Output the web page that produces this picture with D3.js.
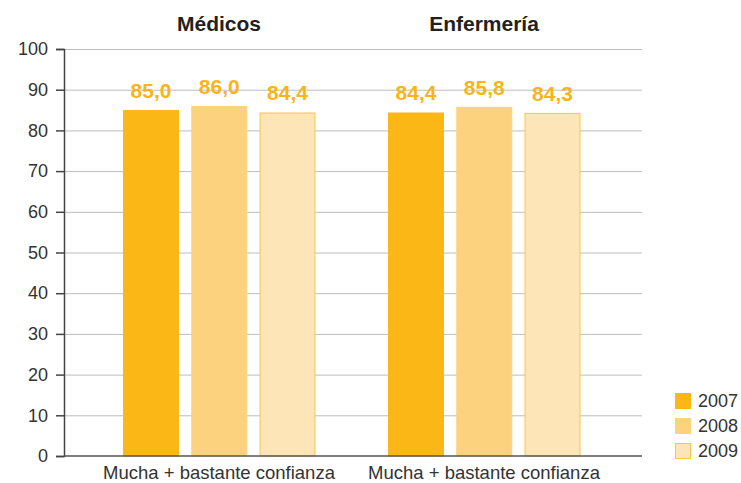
<!DOCTYPE html>
<html><head><meta charset="utf-8">
<script src="https://cdn.jsdelivr.net/npm/d3@7"></script>
<style>body{margin:0;background:#fff;font-family:"Liberation Sans",Arial,Helvetica,sans-serif;}</style>
</head><body><svg id="c" width="741" height="483"></svg>
<script>
const groups = ["Médicos", "Enfermería"];
const category = "Mucha + bastante confianza";
const years = ["2007", "2008", "2009"];
const values2007 = [85.0, 84.4];
const values2008 = [86.0, 85.8];
const values2009 = [84.4, 84.3];
const yTicks = [0,10,20,30,40,50,60,70,80,90,100];
const fills = ["#fbb715", "#fdd27e", "#fde5b7"];
const strokes = ["#fbb715", "#fdd27e", "#fbc44d"];

(function(){
const series = [values2007, values2008, values2009];
const svg = d3.select("#c");
const mL = 64, mR = 642, mT = 49, mB = 456;
const y = d3.scaleLinear().domain([0,100]).range([mB, mT]);
const x0 = d3.scaleBand().domain(groups).range([86.5, 616.5]);
const x1 = d3.scaleBand().domain(years).range([36.5, 229]).paddingInner(0.18);

svg.append("g").selectAll("line").data(yTicks.filter(t=>t>0)).join("line")
  .attr("x1", mL).attr("x2", mR).attr("y1", d=>y(d)+0.5).attr("y2", d=>y(d)+0.5)
  .attr("stroke", "#bdbdbd").attr("stroke-width", 1);

groups.forEach((g, gi) => {
  const gg = svg.append("g").attr("transform", `translate(${x0(g)},0)`);
  years.forEach((yr, i) => {
    const v = series[i][gi];
    gg.append("rect").attr("x", x1(yr)+0.5).attr("y", y(v)+0.5)
      .attr("width", x1.bandwidth()-1).attr("height", mB - y(v) - 0.5)
      .attr("fill", fills[i]).attr("stroke", strokes[i]).attr("stroke-width", 1);
    gg.append("text").attr("x", x1(yr)+x1.bandwidth()/2).attr("y", y(v)-12)
      .attr("text-anchor", "middle").style("font-size", "21px").attr("font-weight", "bold")
      .attr("fill", "#f8b419").text(v.toFixed(1).replace(".", ","));
  });
  svg.append("text").attr("x", x0(g)+x0.bandwidth()/2).attr("y", 31)
    .attr("text-anchor", "middle").style("font-size", "21px").attr("font-weight", "bold")
    .attr("fill", "#231f20").text(g);
  svg.append("text").attr("x", x0(g)+x0.bandwidth()/2).attr("y", 478.5)
    .attr("text-anchor", "middle").style("font-size", "18.5px")
    .attr("fill", "#333").text(category);
});

const ax = svg.append("g").attr("transform", `translate(${mL},0)`)
  .call(d3.axisLeft(y).tickValues(yTicks).tickSize(8).tickPadding(8));
ax.attr("font-size", null).attr("font-family", null);
ax.select(".domain").attr("stroke", "#444").attr("stroke-width", 1.5);
ax.selectAll(".tick line").attr("stroke", "#444").attr("stroke-width", 1.5);
ax.selectAll(".tick text").style("font-size", "18px").attr("fill", "#333")
  .style("font-family", "Liberation Sans, Arial, sans-serif");
svg.append("line").attr("x1", mL).attr("x2", mR).attr("y1", mB).attr("y2", mB)
  .attr("stroke", "#555").attr("stroke-width", 1.5);

const lg = svg.append("g");
years.forEach((yr, i) => {
  lg.append("rect").attr("x", 675.5).attr("y", 393.5 + i*25).attr("width", 15).attr("height", 15)
    .attr("fill", fills[i]).attr("stroke", strokes[i]);
  lg.append("text").attr("x", 698).attr("y", 407 + i*25).style("font-size", "18px")
    .attr("fill", "#333").text(yr);
});
})();
</script></body></html>
